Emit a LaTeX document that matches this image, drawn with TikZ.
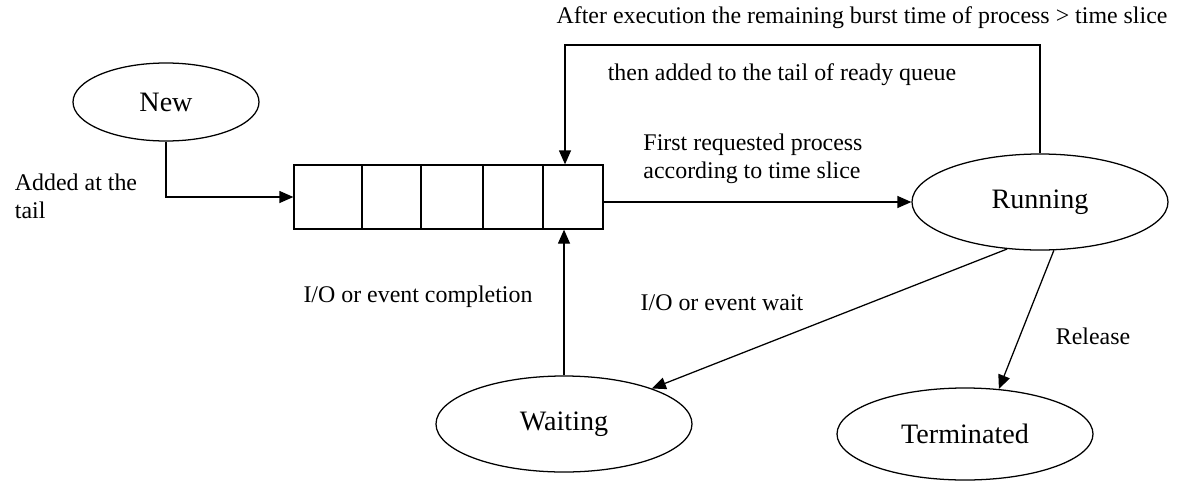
\documentclass[tikz,border=0pt]{standalone}
\usepackage{fontspec}
\setmainfont{Liberation Serif}
\usetikzlibrary{shapes.geometric,arrows.meta}

\begin{document}
\begin{tikzpicture}[x=0.25mm, y=-0.25mm,
  every node/.style={font=\fontsize{17pt}{20pt}\selectfont},
  state/.style={draw, ellipse, line width=0.9pt, minimum width=64mm, minimum height=24mm, inner sep=0pt, font=\fontsize{20pt}{24pt}\selectfont},
  cell/.style={draw, rectangle, line width=0.9pt, minimum height=16mm, inner sep=0pt},
  arr/.style={-{Triangle[length=3.5mm, width=3mm]}, line width=0.9pt}]
  \useasboundingbox (0,0) rectangle (1196,481);
  \node[state, minimum width=46.5mm, minimum height=19.5mm] (new) at (166,102) {New};
  \node[state] (run) at (1040,202) {Running};
  \node[state] (wait) at (564,424) {Waiting};
  \node[state, minimum height=23mm] (term) at (965,434) {Terminated};
  % ready queue
  \node[cell, minimum width=17mm] (q1) at (328,197) {};
  \node[cell, minimum width=14.75mm] (q2) at (391.5,197) {};
  \node[cell, minimum width=15.5mm] (q3) at (452,197) {};
  \node[cell, minimum width=15mm] (q4) at (513,197) {};
  \node[cell, minimum width=15mm] (q5) at (573,197) {};
  \coordinate (top) at (0,45);
  \draw[arr] (new.south) |- (q1.west);
  \draw[arr] (q5.east |- run) -- (run);
  \draw[arr] (run.north) |- ([xshift=-2mm]q5.north |- top) -- ([xshift=-2mm]q5.north);
  \draw[arr] (wait.north) -- (wait.north |- q5.south);
  \draw[arr] (run.235) -- (wait.22);
  \draw[arr] (run.286) -- (term.53);
  % labels
  \node[align=left, anchor=west] (ladd) at (10,196) {Added at the\\tail};
  \node (ltop) at (862,18) {After execution the remaining burst time of process > time slice};
  \node (lthen) at (782,75) {then added to the tail of ready queue};
  \node[align=left] (lfirst) at (753,159) {First requested process\\according to time slice};
  \node (lcomp) at (418,297) {I/O or event completion};
  \node (lwait) at (722,303) {I/O or event wait};
  \node (lrel) at (1093,336) {Release};
\end{tikzpicture}
\end{document}
